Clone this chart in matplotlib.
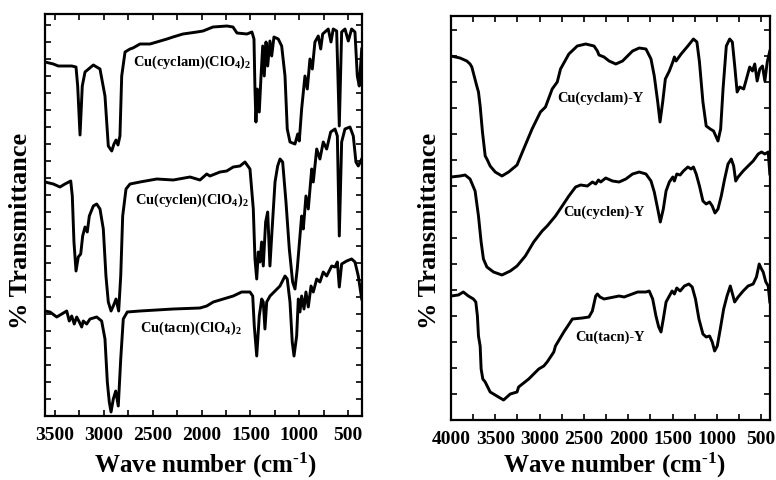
import matplotlib
matplotlib.use("Agg")
import matplotlib.pyplot as plt
from matplotlib.ticker import MultipleLocator

plt.rcParams['font.family'] = ['Liberation Serif', 'DejaVu Serif']
plt.rcParams['font.weight'] = 'bold'
plt.rcParams['mathtext.fontset'] = 'custom'
plt.rcParams['mathtext.rm'] = 'Liberation Serif:bold'
plt.rcParams['mathtext.bf'] = 'Liberation Serif:bold'
plt.rcParams['mathtext.it'] = 'Liberation Serif:bold'

# ---------------- Left panel: Cu complexes (perchlorate salts) ----------------
cyclam_wn = [3600, 3515, 3464, 3327, 3283, 3266, 3242, 3219, 3191, 3106, 3038, 2987, 2953, 2918,
             2895, 2874, 2854, 2834, 2816, 2782, 2731, 2701, 2629, 2527, 2353, 2292, 2190, 2047,
             1985, 1883, 1740, 1679, 1638, 1536, 1485, 1464, 1454, 1444, 1430, 1410, 1392, 1375,
             1359, 1341, 1324, 1301, 1283, 1260, 1216, 1181, 1147, 1124, 1096, 1045, 1017, 1001,
             977, 943, 919, 892, 868, 841, 807, 782, 762, 705, 677, 654, 619, 592, 568, 534, 500,
             466, 432, 408, 388, 363]
cyclam_t = [354, 352, 350, 350, 349, 330, 281, 330, 344, 351, 347, 320, 270, 265,
            272, 276, 271, 280, 340, 364, 367, 368, 372, 372, 377, 379, 382, 384,
            385, 389, 390, 389, 383, 382, 384, 377, 327, 294, 327, 304, 340, 370,
            340, 374, 350, 375, 360, 379, 377, 370, 340, 287, 274, 272, 282, 275,
            307, 340, 327, 357, 347, 374, 380, 367, 382, 387, 374, 387, 385, 290, 384, 387, 375,
            387, 384, 340, 330, 367]

cyclen_wn = [3600, 3515, 3447, 3396, 3337, 3321, 3304, 3283, 3260, 3235, 3215, 3191, 3168, 3147,
             3106, 3072, 3038, 3004, 2977, 2953, 2925, 2902, 2874, 2847, 2826, 2806, 2772, 2731,
             2629, 2458, 2289, 2118, 2016, 1947, 1914, 1811, 1743, 1676, 1607, 1556, 1505, 1471,
             1454, 1436, 1420, 1403, 1386, 1369, 1345, 1324, 1301, 1283, 1249, 1222, 1198, 1171,
             1137, 1103, 1069, 1045, 1022, 994, 977, 960, 933, 909, 874, 858, 823, 790, 756, 721,
             680, 636, 612, 592, 568, 534, 483, 449, 422, 398, 363]
cyclen_t = [234, 232, 229, 232, 235, 220, 174, 145, 159, 162, 180, 189, 184, 200,
            210, 212, 207, 187, 140, 114, 105, 110, 117, 105, 140, 200, 227, 232,
            234, 237, 236, 239, 236, 242, 240, 244, 245, 249, 250, 254, 247, 207,
            157, 137, 164, 154, 174, 150, 194, 204, 150, 180, 234, 250, 257, 254,
            214, 167, 134, 127, 147, 180, 200, 187, 220, 207, 247, 234, 267, 257, 274, 267,
            284, 287, 280, 180, 274, 287, 289, 280, 254, 250, 257]

tacn_wn = [3600, 3549, 3480, 3429, 3378, 3352, 3327, 3301, 3276, 3249, 3225, 3209, 3174, 3140,
           3072, 3021, 2987, 2963, 2943, 2925, 2902, 2877, 2851, 2826, 2800, 2759, 2629, 2289,
           2016, 1947, 1880, 1676, 1590, 1505, 1477, 1461, 1436, 1410, 1385, 1369, 1352, 1334,
           1300, 1249, 1198, 1147, 1124, 1096, 1073, 1055, 1028, 1011, 994, 977, 953, 933, 909,
           881, 858, 823, 790, 756, 721, 670, 636, 612, 592, 568, 517, 466, 432, 398, 363]
tacn_t = [105, 104, 99, 102, 105, 95, 100, 92, 99, 94, 89, 95, 92, 97,
          99, 95, 77, 34, 14, 4, 17, 25, 10, 57, 97, 104, 105, 107,
          108, 110, 114, 120, 124, 124, 120, 90, 60, 100, 117, 114, 87, 114,
          120, 125, 130, 140, 137, 114, 74, 60, 80, 117, 104, 120, 107, 124, 109,
          130, 124, 137, 134, 144, 140, 150, 149, 154, 129, 152, 155, 157, 154, 140, 117]

# ---------------- Right panel: zeolite-Y encapsulated complexes ----------------
cyclamY_wn = [4000, 3898, 3822, 3785, 3765, 3709, 3690, 3671, 3645, 3614, 3595, 3558, 3501, 3425,
              3350, 3255, 3180, 3085, 2991, 2934, 2858, 2801, 2764, 2670, 2575, 2480, 2386, 2348,
              2330, 2273, 2216, 2140, 2064, 1951, 1876, 1800, 1743, 1706, 1667, 1641, 1611, 1581,
              1536, 1497, 1479, 1460, 1403, 1327, 1264, 1225, 1196, 1157, 1120, 1074, 1037, 987,
              957, 930, 893, 855, 825, 798, 771, 742, 697, 666, 629, 598, 572, 545, 515, 485, 458,
              431, 402]
cyclamY_t = [364, 362, 359, 356, 353, 334, 328, 314, 288, 264, 261, 254, 248, 244,
             248, 255, 271, 291, 308, 313, 331, 338, 351, 366, 374, 376, 374, 369,
             365, 363, 359, 356, 359, 369, 372, 371, 361, 344, 318, 298, 318, 341,
             349, 358, 363, 359, 366, 374, 381, 378, 358, 318, 294, 291, 289, 279,
             291, 331, 374, 381, 378, 354, 328, 333, 331, 341, 353, 349, 356, 339, 351, 354, 339,
             358, 369]

cyclenY_wn = [4000, 3898, 3841, 3785, 3728, 3690, 3660, 3634, 3595, 3520, 3425, 3331, 3255, 3161,
              3067, 2971, 2915, 2821, 2745, 2670, 2594, 2537, 2461, 2404, 2367, 2336, 2310, 2254,
              2178, 2103, 2027, 1951, 1876, 1800, 1743, 1706, 1667, 1638, 1604, 1573, 1536, 1497,
              1479, 1452, 1414, 1377, 1327, 1290, 1264, 1233, 1196, 1157, 1120, 1082, 1052, 1021,
              987, 950, 912, 874, 837, 810, 787, 760, 703, 647, 590, 533, 496, 458, 420, 402]
cyclenY_t = [243, 244, 245, 241, 229, 204, 178, 161, 153, 148, 145, 149, 154, 164,
             178, 189, 194, 204, 214, 224, 233, 235, 234, 238, 236, 240, 238, 242,
             239, 238, 241, 246, 248, 246, 239, 228, 211, 198, 211, 229, 238, 243,
             239, 246, 245, 249, 253, 251, 253, 246, 234, 219, 216, 218, 214, 207,
             211, 224, 241, 256, 261, 254, 239, 243, 249, 254, 259, 266, 268, 266, 268, 246]

tacnY_wn = [4000, 3917, 3861, 3804, 3747, 3720, 3702, 3690, 3671, 3660, 3641, 3614, 3558, 3464,
            3407, 3331, 3255, 3237, 3123, 3010, 2953, 2915, 2840, 2821, 2727, 2630, 2518, 2443,
            2405, 2367, 2348, 2318, 2273, 2103, 2046, 1894, 1800, 1763, 1724, 1687, 1656, 1630,
            1604, 1573, 1536, 1505, 1479, 1452, 1414, 1366, 1316, 1278, 1241, 1202, 1157, 1120,
            1082, 1052, 1025, 995, 961, 923, 885, 848, 817, 799, 760, 703, 647, 590, 553, 522,
            496, 477, 447, 420, 402]
tacnY_t = [124, 125, 128, 124, 121, 118, 104, 84, 74, 51, 41, 38, 28, 23,
           20, 26, 28, 33, 41, 51, 54, 58, 68, 74, 88, 101, 102, 103,
           109, 124, 126, 123, 121, 124, 123, 128, 128, 129, 121, 104, 93, 88,
           101, 118, 124, 129, 126, 132, 129, 134, 136, 133, 121, 101, 86, 83,
           84, 78, 69, 74, 91, 111, 124, 134, 124, 118, 123, 129, 134, 136, 143, 156,
           151, 148, 138, 134, 118]

left_labels = ['Cu(cyclam)(ClO$_4$)$_2$', 'Cu(cyclen)(ClO$_4$)$_2$', 'Cu(tacn)(ClO$_4$)$_2$']
right_labels = ['Cu(cyclam)-Y', 'Cu(cyclen)-Y', 'Cu(tacn)-Y']
xlabel_text = r'Wave number (cm$^{\text{-1}}$)'
ylabel_text = '% Transmittance'

fig = plt.figure(figsize=(7.76, 4.81), dpi=100)
axL = fig.add_axes([45/776, 1-417/481, 317/776, 402/481])
axR = fig.add_axes([451/776, 1-421/481, 319/776, 404.5/481])

lw = 2.1
axL.plot(cyclam_wn, cyclam_t, color='black', lw=lw)
axL.plot(cyclen_wn, cyclen_t, color='black', lw=lw)
axL.plot(tacn_wn, tacn_t, color='black', lw=lw)
axR.plot(cyclamY_wn, cyclamY_t, color='black', lw=lw)
axR.plot(cyclenY_wn, cyclenY_t, color='black', lw=lw)
axR.plot(tacnY_wn, tacnY_t, color='black', lw=lw)

axL.set_xlim(3600, 360)
axL.set_ylim(0, 402)
axR.set_xlim(4000, 400)
axR.set_ylim(0, 404.5)

lab_fs = 10.4
axL.text(2700, 355, left_labels[0], fontsize=lab_fs, fontweight='bold', va='center', ha='left')
axL.text(2680, 217, left_labels[1], fontsize=lab_fs, fontweight='bold', va='center', ha='left')
axL.text(2630, 89, left_labels[2], fontsize=lab_fs, fontweight='bold', va='center', ha='left')
axR.text(2801, 323, right_labels[0], fontsize=lab_fs, fontweight='bold', va='center', ha='left')
axR.text(2730, 209, right_labels[1], fontsize=lab_fs, fontweight='bold', va='center', ha='left')
axR.text(2594, 84, right_labels[2], fontsize=lab_fs, fontweight='bold', va='center', ha='left')

for ax, ystep in ((axL, 17), (axR, 26)):
    ax.xaxis.set_major_locator(MultipleLocator(500))
    ax.xaxis.set_minor_locator(MultipleLocator(250))
    ax.yaxis.set_major_locator(MultipleLocator(ystep))
    ax.tick_params(axis='both', which='both', direction='in', top=True, right=True,
                   width=1.2, length=4)
    ax.tick_params(axis='x', which='major', labelsize=14, pad=7)
    ax.tick_params(axis='y', labelleft=False)
    for lbl in ax.get_xticklabels():
        lbl.set_fontweight('bold')
    for s in ax.spines.values():
        s.set_linewidth(1.6)

fig.text(206/776, 1-473/481, xlabel_text, fontsize=18, fontweight='bold',
         ha='center', va='baseline')
fig.text(615/776, 1-473/481, xlabel_text, fontsize=18, fontweight='bold',
         ha='center', va='baseline')
fig.text(21/776, 1-231/481, ylabel_text, rotation=90, fontsize=19, fontweight='bold',
         ha='center', va='center')
fig.text(429/776, 1-231/481, ylabel_text, rotation=90, fontsize=19, fontweight='bold',
         ha='center', va='center')

fig.savefig('out.png', dpi=100)
